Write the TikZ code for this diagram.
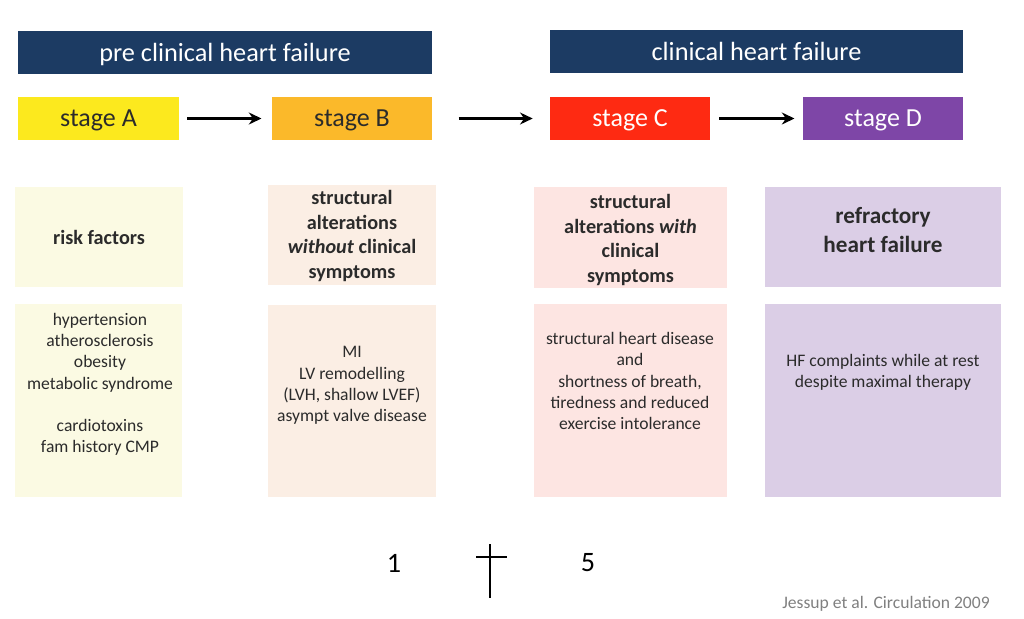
\documentclass[tikz,border=0pt]{standalone}
\usepackage{fontspec}
\setmainfont{Carlito}
\usetikzlibrary{arrows.meta}
\definecolor{hfblue}{HTML}{1C3B63}
\definecolor{stageA}{HTML}{FCE91E}
\definecolor{stageB}{HTML}{FBB92A}
\definecolor{stageC}{HTML}{FE2A12}
\definecolor{stageD}{HTML}{7E46A7}
\definecolor{paleA}{HTML}{FBFAE3}
\definecolor{paleB}{HTML}{FBEEE4}
\definecolor{paleC}{HTML}{FDE5E2}
\definecolor{paleD}{HTML}{DBCEE6}
\definecolor{txtdark}{HTML}{2B2B2B}
\begin{document}
\begin{tikzpicture}[x=0.025cm,y=-0.025cm,
    header/.style={fill=hfblue,text=white,inner sep=0pt,text depth=0pt,minimum height=1.075cm,font=\fontsize{18.7}{22}\selectfont},
    stagebox/.style={inner sep=0pt,text depth=0pt,minimum width=4.01cm,minimum height=1.075cm,font=\fontsize{18.5}{22}\selectfont},
    titlebox/.style={inner sep=0pt,minimum height=2.5cm},
    listbox/.style={inner sep=0pt,minimum height=4.8cm},
    titletext/.style={align=center,text=txtdark,font=\bfseries\fontsize{14.4}{17.7}\selectfont},
    listtext/.style={align=center,text=txtdark,font=\fontsize{12.5}{15.1}\selectfont},
    flow/.style={line width=1.6pt,-{Stealth[length=9pt,width=8.5pt]}}]
    \useasboundingbox (0,0) rectangle (1024,618);

    % Headers
    \node[header,minimum width=10.35cm] (pre) at (225,52.5) {pre clinical heart failure};
    \node[header,minimum width=10.325cm] (clin) at (756.5,51.5) {clinical heart failure};

    % Stages
    \node[stagebox,fill=stageA,text=txtdark] (sA) at (98.5,118.5) {stage A};
    \node[stagebox,fill=stageB,text=txtdark] (sB) at (352,118.5) {stage B};
    \node[stagebox,fill=stageC,text=white] (sC) at (630,118.5) {stage C};
    \node[stagebox,fill=stageD,text=white] (sD) at (883,118.5) {stage D};
    \draw[flow] ([xshift=0.2cm]sA.east) -- ([xshift=-0.25cm]sB.west);
    \draw[flow] ([xshift=0.65cm]sB.east) -- ([xshift=-0.42cm]sC.west);
    \draw[flow] ([xshift=0.22cm]sC.east) -- ([xshift=-0.2cm]sD.west);

    % Title boxes
    \node[titlebox,fill=paleA,minimum width=4.2cm] (tA) at (99,237) {};
    \node[titlebox,fill=paleB,minimum width=4.2cm] (tB) at (352,235) {};
    \node[titlebox,fill=paleC,minimum width=4.825cm] (tC) at (630.5,237.5) {};
    \node[titlebox,fill=paleD,minimum width=5.9cm] (tD) at (883,237) {};
    \node[titletext] (riskA) at (tA) {risk factors};
    \node[titletext] (structB) at (352,236) {structural\\alterations\\\textit{without} clinical\\symptoms};
    \node[titletext] (structC) at (630.5,240) {structural\\alterations \textit{with}\\clinical\\symptoms};
    \node[titletext,font=\bfseries\fontsize{16.5}{20}\selectfont] (refrD) at (883,230) {refractory\\heart failure};

    % List boxes
    \node[listbox,fill=paleA,minimum width=4.175cm] (lA) at (98.5,400.5) {};
    \node[listbox,fill=paleB,minimum width=4.2cm] (lB) at (352,401) {};
    \node[listbox,fill=paleC,minimum width=4.825cm] (lC) at (630.5,400.5) {};
    \node[listbox,fill=paleD,minimum width=5.9cm] (lD) at (883,400.5) {};
    \node[listtext] (itemsA) at (100,384.5) {hypertension\\atherosclerosis\\obesity\\metabolic syndrome\\[15.1pt]cardiotoxins\\fam history CMP};
    \node[listtext] (itemsB) at (352,385.5) {MI\\LV remodelling\\(LVH, shallow LVEF)\\asympt valve disease};
    \node[listtext] (itemsC) at (630,381) {structural heart disease\\and\\shortness of breath,\\tiredness and reduced\\exercise intolerance};
    \node[listtext] (itemsD) at (883,372.5) {HF complaints while at rest\\despite maximal therapy};

    % Bottom
    \node[font=\fontsize{20}{24}\selectfont] (one) at (394,563) {1};
    \node[font=\fontsize{20}{24}\selectfont] (five) at (588,563) {5};
    \draw[line width=1.7pt] (490,544) -- (490,598);
    \draw[line width=1.7pt] (476,557) -- (507,557);
    \node[anchor=east,inner sep=0pt,text=black!50,font=\fontsize{12.5}{15}\selectfont] (ref) at (990,604) {Jessup et al. Circulation 2009};
\end{tikzpicture}
\end{document}
